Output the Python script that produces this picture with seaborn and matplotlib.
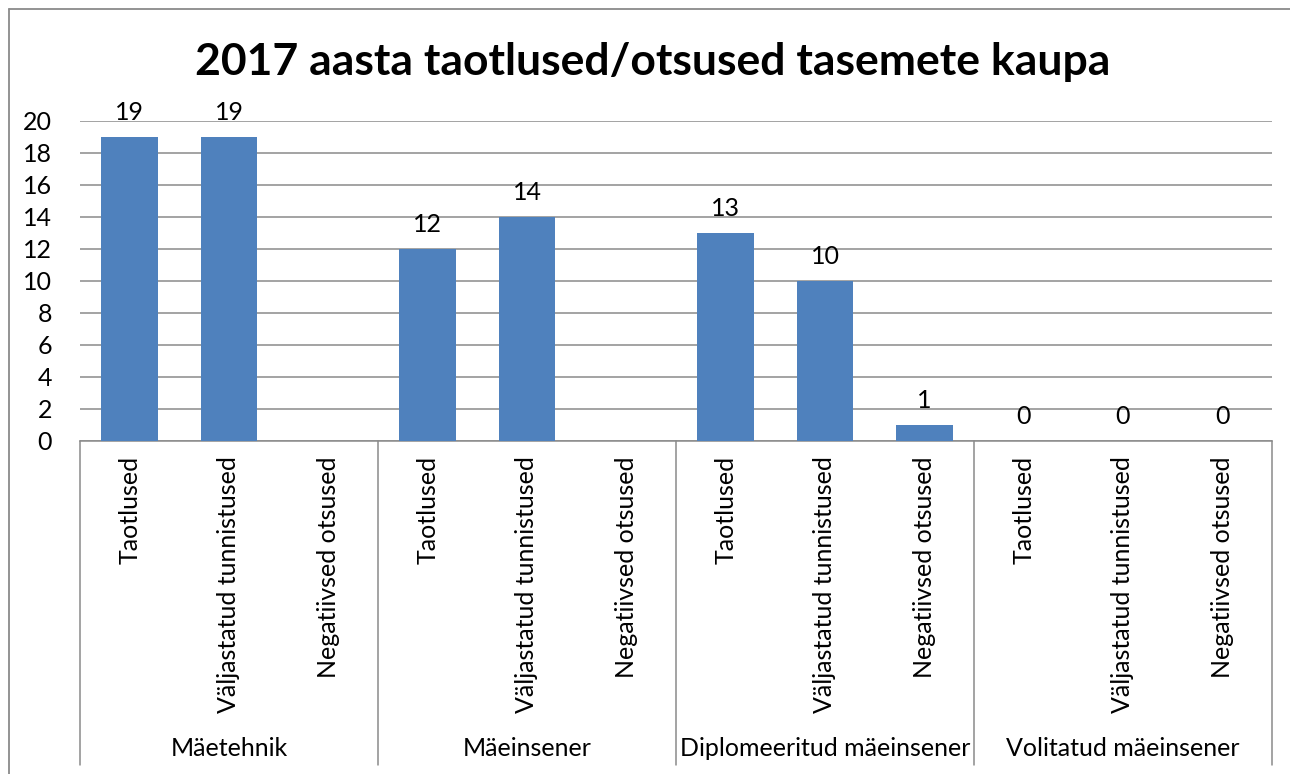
import matplotlib.pyplot as plt
import seaborn as sns
import pandas as pd
import numpy as np
from matplotlib.lines import Line2D

# data
groups = ["Mäetehnik", "Mäeinsener", "Diplomeeritud mäeinsener", "Volitatud mäeinsener"]
subs = ["Taotlused", "Väljastatud tunnistused", "Negatiivsed otsused"]
maetehnik = [19, 19, None]
maeinsener = [12, 14, None]
diplomeeritud = [13, 10, 1]
volitatud = [0, 0, 0]
title = "2017 aasta taotlused/otsused tasemete kaupa"

rows = []
for g, vals in zip(groups, [maetehnik, maeinsener, diplomeeritud, volitatud]):
    for s, v in zip(subs, vals):
        rows.append({"group": g, "sub": s, "key": g + "|" + s, "value": v})
df = pd.DataFrame(rows)
df["value"] = df["value"].astype(float)
df["draw"] = df["value"].fillna(0)

sns.set_style("white")
plt.rcParams["font.family"] = ["Lato", "DejaVu Sans"]
plt.rcParams["text.color"] = "black"
plt.rcParams["xtick.color"] = "black"
plt.rcParams["ytick.color"] = "black"

fs = 18

fig = plt.figure(figsize=(12.9, 7.74), dpi=100)
ax = fig.add_axes([80 / 1290, 1 - 441 / 774, 1192 / 1290, 320 / 774])

grey = "#8a8a8a"
sns.barplot(data=df, x="key", y="draw", order=list(df["key"]), color="#4F81BD",
            width=0.57, saturation=1, linewidth=0, ax=ax, zorder=3)

labels = ["" if np.isnan(v) else "%d" % v for v in df["value"]]
ax.bar_label(ax.containers[0], labels=labels, padding=9, fontsize=fs)

ax.set_xlim(-0.5, len(df) - 0.5)
ax.set_ylim(0, 20)
ax.set_yticks(range(0, 21, 2))
ax.yaxis.grid(True, color=grey, linewidth=1.1, zorder=0)
ax.set_axisbelow(True)
ax.set_xticks(range(len(df)))
ax.set_xticklabels(df["sub"], rotation=90, fontsize=fs)
ax.tick_params(axis="x", length=0, pad=11)
ax.tick_params(axis="y", length=0, pad=20, labelsize=fs)
ax.set_xlabel("")
ax.set_ylabel("")
for side in ["top", "right", "left"]:
    ax.spines[side].set_visible(False)
ax.spines["bottom"].set_color(grey)
ax.spines["bottom"].set_linewidth(1.1)

# group separators and names
xt = ax.get_xaxis_transform()
for i in range(len(groups) + 1):
    x = i * len(subs) - 0.5
    ax.add_line(Line2D([x, x], [0, -1.0125], transform=xt, color=grey,
                       linewidth=1.1, clip_on=False))
for i, g in enumerate(groups):
    ax.text(i * len(subs) + 1, -0.96, g, transform=xt, ha="center", va="center",
            fontsize=fs)

fig.text(0.506, 1 - 75 / 774, title, ha="center", va="baseline",
         fontsize=32, fontweight="bold")

# outer chart frame
fig.add_artist(Line2D([9 / 1290, 1], [1 - 9 / 774, 1 - 9 / 774], color=grey, linewidth=1.3))
fig.add_artist(Line2D([9 / 1290, 9 / 1290], [0, 1 - 9 / 774], color=grey, linewidth=1.3))

fig.savefig("out.png", dpi=100)
